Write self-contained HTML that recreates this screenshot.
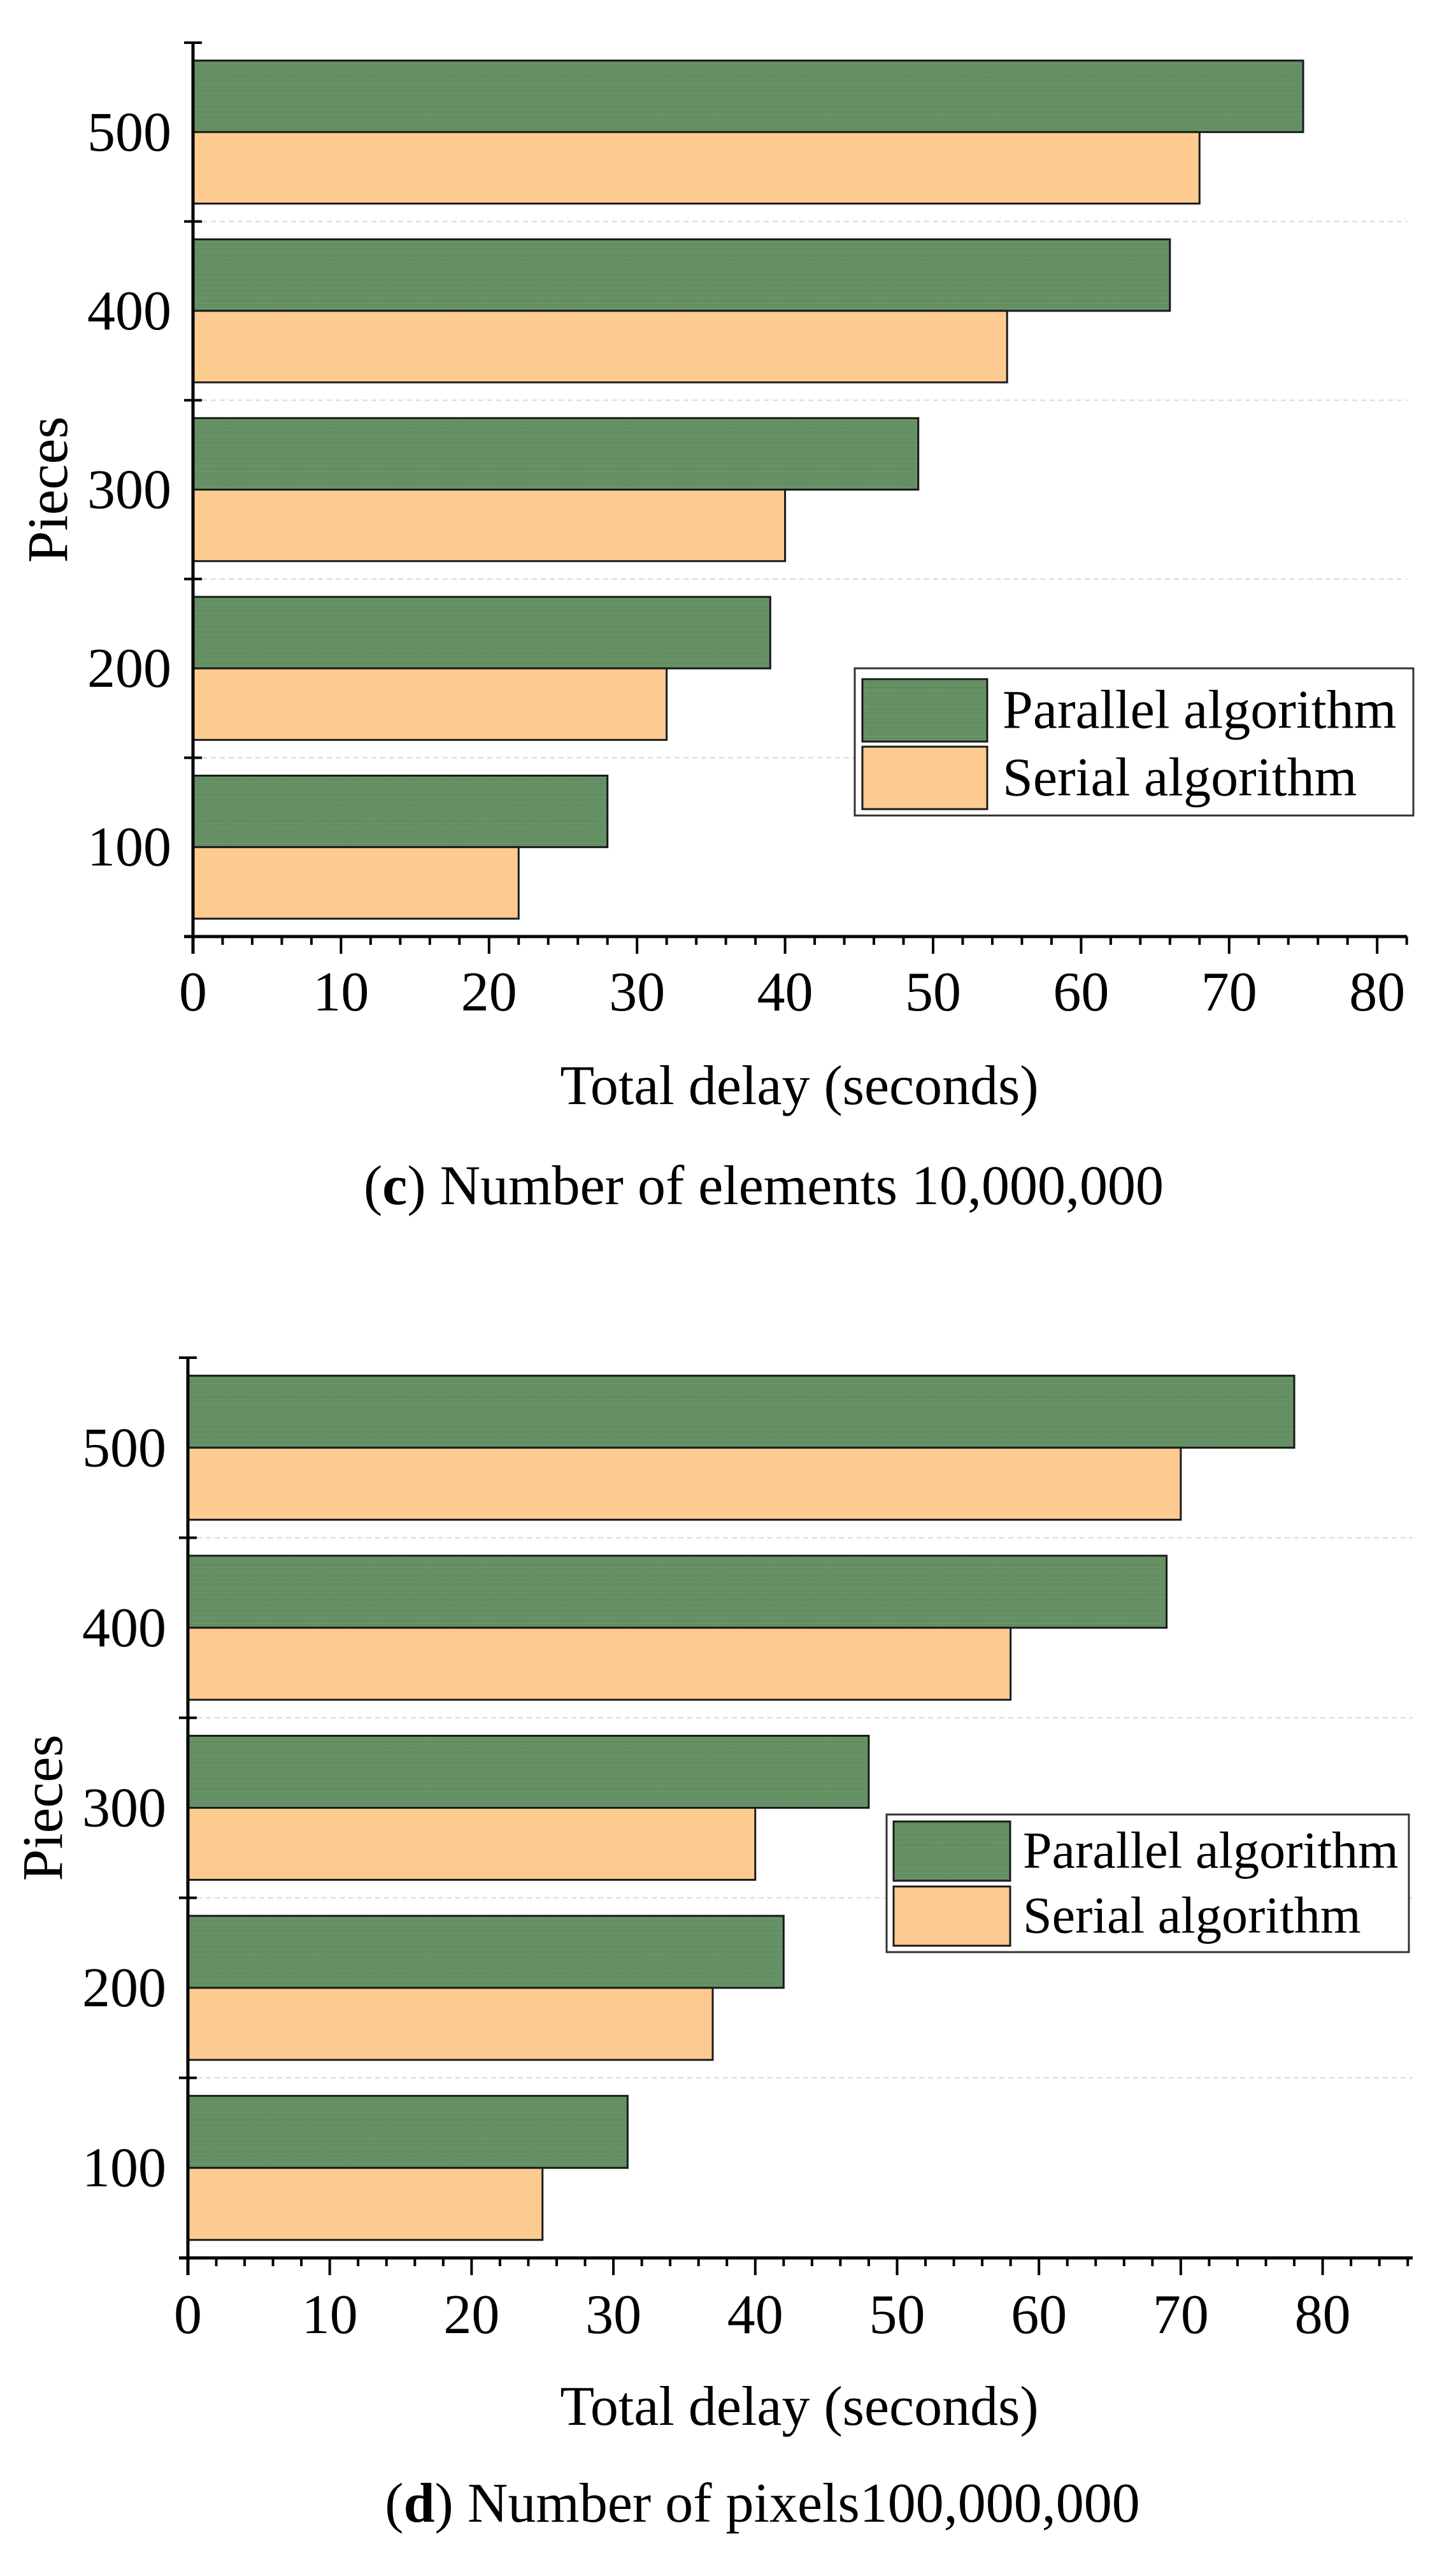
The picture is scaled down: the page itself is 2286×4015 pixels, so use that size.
<!DOCTYPE html>
<html><head><meta charset="utf-8">
<style>
html,body{margin:0;padding:0;background:#fff;}
svg{display:block;}
text{font-family:"Liberation Serif","Times New Roman",serif;fill:#000;}
</style></head>
<body>
<svg id="fig" width="2286" height="4015" viewBox="0 0 2286 4015" xmlns="http://www.w3.org/2000/svg">
<defs>
<pattern id="hatch" width="8" height="8" patternUnits="userSpaceOnUse">
<rect width="8" height="8" fill="#5f8a5f"/>
<path d="M0 0H8M0 4H8" stroke="#73a073" stroke-width="1"/>
<path d="M2 0V8M6 0V8" stroke="#6a966a" stroke-width="1"/>
</pattern>
</defs>
</svg>
<script>
const categories = [100, 200, 300, 400, 500];
const xTicks = [0, 10, 20, 30, 40, 50, 60, 70, 80];
const parallelC = [28, 39, 49, 66, 75];
const serialC = [22, 32, 40, 55, 68];
const parallelD = [31, 42, 48, 69, 78];
const serialD = [25, 37, 40, 58, 70];
const seriesNames = ["Parallel algorithm", "Serial algorithm"];

const NS = "http://www.w3.org/2000/svg";
const svg = document.getElementById("fig");
function mk(tag, attrs, parent, text){
  const e = document.createElementNS(NS, tag);
  for (const k in attrs) e.setAttribute(k, attrs[k]);
  if (text !== undefined) e.textContent = text;
  (parent || svg).appendChild(e);
  return e;
}

function drawChart(cfg, par, ser, id){
  const g = mk("g", {});
  
  
  const x = v => cfg.x0 + v * cfg.per10 / 10;
  const band = (cfg.bottom - cfg.top) / categories.length;
  const bandTop = i => cfg.bottom - (i + 1) * band;
  const barH = band * 0.4;
  const pad = band * 0.1;

  for (let i = 1; i < categories.length; i++){
    const y = cfg.bottom - i * band;
    const gl = mk("line", {x1: cfg.x0, x2: cfg.xEnd, y1: y, y2: y, stroke: "#d8d8d8", "stroke-width": 2, "stroke-dasharray": "8 6"}, g);
    
    
  }
  categories.forEach((c, i) => {
    const t = bandTop(i) + pad;
    const bp = mk("rect", {x: x(0), y: t, width: x(par[i]) - x(0), height: barH, fill: "url(#hatch)", stroke: "#1a1a1a", "stroke-width": 3}, g);
    
    
    const bs = mk("rect", {x: x(0), y: t + barH, width: x(ser[i]) - x(0), height: barH, fill: "#fdcb90", stroke: "#1a1a1a", "stroke-width": 3}, g);
    
    
    const lab = mk("text", {x: cfg.x0 - 34, y: bandTop(i) + band / 2 + 29, "font-size": 88, "text-anchor": "end"}, g, String(c));
    
    
    const tk = mk("line", {x1: cfg.x0 - 14, x2: cfg.x0 + 14, y1: cfg.bottom - (i + 1) * band, y2: cfg.bottom - (i + 1) * band, stroke: "#000", "stroke-width": 4}, g);
    
    
  });
  const ya = mk("line", {x1: cfg.x0, x2: cfg.x0, y1: cfg.top, y2: cfg.bottom + 27, stroke: "#000", "stroke-width": 5}, g);
  
  
  const xa = mk("line", {x1: cfg.x0 - 14, x2: cfg.xEnd, y1: cfg.bottom, y2: cfg.bottom, stroke: "#000", "stroke-width": 5}, g);
  
  
  for (let v = 2; x(v) <= cfg.xEnd + 1; v += 2){
    if (v % 10 === 0) continue;
    const mt = mk("line", {x1: x(v), x2: x(v), y1: cfg.bottom, y2: cfg.bottom + 13, stroke: "#000", "stroke-width": 4}, g);
    
    
  }
  xTicks.forEach(v => {
    const t = mk("line", {x1: x(v), x2: x(v), y1: cfg.bottom, y2: cfg.bottom + 27, stroke: "#000", "stroke-width": 4}, g);
    
    
    const l = mk("text", {x: x(v), y: cfg.tickBase, "font-size": 88, "text-anchor": "middle"}, g, String(v));
    
    
  });
  const xt = mk("text", {x: 1255, y: cfg.xTitleBase, "font-size": 88, "text-anchor": "middle"}, g, "Total delay (seconds)");
  
  
  const ymid = (cfg.top + cfg.bottom) / 2;
  const yt = mk("text", {x: cfg.yTitleX, y: ymid, "font-size": 90, "text-anchor": "middle", transform: "rotate(-90 " + cfg.yTitleX + " " + ymid + ")"}, g, "Pieces");
  
  
  const cap = mk("text", {x: cfg.capX, y: cfg.capBase, "font-size": 88, "text-anchor": "middle"}, g);
  
  
  mk("tspan", {}, cap, "(");
  mk("tspan", {"font-weight": "bold"}, cap, cfg.letter);
  mk("tspan", {}, cap, ") " + cfg.caption);
  const L = cfg.legend;
  const lg = mk("g", {}, g);
  
  
  mk("rect", {x: L.x, y: L.y, width: L.w, height: L.h, fill: "#fff", stroke: "#333", "stroke-width": 3}, lg);
  const fills = ["url(#hatch)", "#fdcb90"];
  seriesNames.forEach((n, k) => {
    const e = mk("g", {}, lg);
    
    
    mk("rect", {x: L.sx, y: L.rows[k], width: L.sw, height: L.sh, fill: fills[k], stroke: "#1a1a1a", "stroke-width": 3}, e);
    mk("text", {x: L.tx, y: L.rows[k] + L.sh * 0.78, "font-size": L.fs}, e, n);
  });
}

drawChart({x0: 303, per10: 232.4, xEnd: 2209, top: 67, bottom: 1470, tickBase: 1586,
  xTitleBase: 1733, yTitleX: 105, capX: 1199, capBase: 1890, letter: "c", caption: "Number of elements 10,000,000",
  legend: {x: 1342, y: 1049, w: 877, h: 231, sx: 1354, sw: 196, sh: 98, rows: [1066, 1172], tx: 1574, fs: 86}},
  parallelC, serialC, "c");

drawChart({x0: 295, per10: 222.7, xEnd: 2218, top: 2131, bottom: 3544, tickBase: 3662,
  xTitleBase: 3806, yTitleX: 97, capX: 1197, capBase: 3958, letter: "d", caption: "Number of pixels100,000,000",
  legend: {x: 1392, y: 2848, w: 820, h: 216, sx: 1403, sw: 183, sh: 93, rows: [2859, 2961], tx: 1606, fs: 82}},
  parallelD, serialD, "d");
</script>
</body></html>
